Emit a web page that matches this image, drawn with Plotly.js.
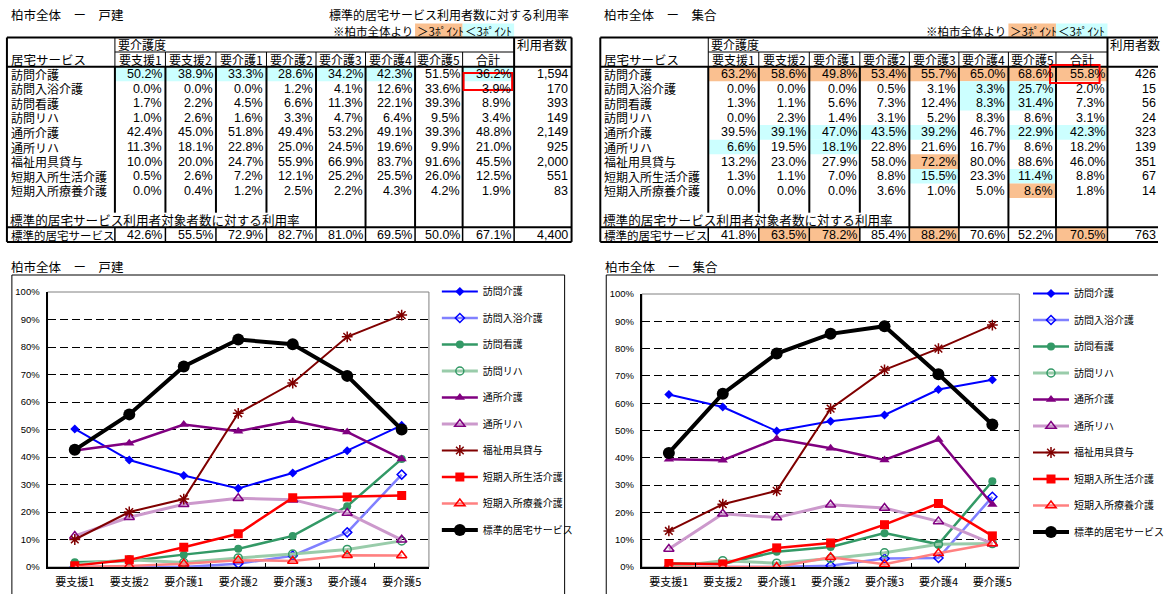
<!DOCTYPE html>
<html><head><meta charset="utf-8">
<script src="https://cdn.plot.ly/plotly-3.0.1.min.js"></script>
<style>html,body{margin:0;padding:0;background:#fff;}#chart{width:1169px;height:594px;}</style>
</head><body><div id="chart"></div>
<script>
// ---------- data ----------
const levels = ['要支援1','要支援2','要介護1','要介護2','要介護3','要介護4','要介護5'];
const totalLabel = '合計';
const services = ['訪問介護','訪問入浴介護','訪問看護','訪問リハ','通所介護','通所リハ','福祉用具貸与','短期入所生活介護','短期入所療養介護'];
const standardLabel = '標準的居宅サービス';

// 戸建 : 7 levels + 合計 (%)
const kodateHomonKaigo    = [50.2,38.9,33.3,28.6,34.2,42.3,51.5,36.2];
const kodateHomonNyuyoku  = [0.0,0.0,0.0,1.2,4.1,12.6,33.6,3.9];
const kodateHomonKango    = [1.7,2.2,4.5,6.6,11.3,22.1,39.3,8.9];
const kodateHomonReha     = [1.0,2.6,1.6,3.3,4.7,6.4,9.5,3.4];
const kodateTsushoKaigo   = [42.4,45.0,51.8,49.4,53.2,49.1,39.3,48.8];
const kodateTsushoReha    = [11.3,18.1,22.8,25.0,24.5,19.6,9.9,21.0];
const kodateFukushiYogu   = [10.0,20.0,24.7,55.9,66.9,83.7,91.6,45.5];
const kodateTankiSeikatsu = [0.5,2.6,7.2,12.1,25.2,25.5,26.0,12.5];
const kodateTankiRyoyo    = [0.0,0.4,1.2,2.5,2.2,4.3,4.2,1.9];
const kodateHyojun        = [42.6,55.5,72.9,82.7,81.0,69.5,50.0,67.1];
const kodateUsers = [1594,170,393,149,2149,925,2000,551,83,4400];
// c: <3ポイント , o: >3ポイント
const kodateFlags = [
  ['c','c','c','c','c','c','','c'],
  [],[],[],[],[],[],[],[],[]
];

// 集合
const shugoHomonKaigo    = [63.2,58.6,49.8,53.4,55.7,65.0,68.6,55.8];
const shugoHomonNyuyoku  = [0.0,0.0,0.0,0.5,3.1,3.3,25.7,2.0];
const shugoHomonKango    = [1.3,1.1,5.6,7.3,12.4,8.3,31.4,7.3];
const shugoHomonReha     = [0.0,2.3,1.4,3.1,5.2,8.3,8.6,3.1];
const shugoTsushoKaigo   = [39.5,39.1,47.0,43.5,39.2,46.7,22.9,42.3];
const shugoTsushoReha    = [6.6,19.5,18.1,22.8,21.6,16.7,8.6,18.2];
const shugoFukushiYogu   = [13.2,23.0,27.9,58.0,72.2,80.0,88.6,46.0];
const shugoTankiSeikatsu = [1.3,1.1,7.0,8.8,15.5,23.3,11.4,8.8];
const shugoTankiRyoyo    = [0.0,0.0,0.0,3.6,1.0,5.0,8.6,1.8];
const shugoHyojun        = [41.8,63.5,78.2,85.4,88.2,70.6,52.2,70.5];
const shugoUsers = [426,15,56,24,323,139,351,67,14,763];
const shugoFlags = [
  ['o','o','o','o','o','o','o','o'],
  ['','','','','','c','c',''],
  ['','','','','','c','c',''],
  [],
  ['','c','c','c','c','','c','c'],
  ['c','','c','','','','',''],
  ['','','','','o','','',''],
  ['','','','','c','','c',''],
  ['','','','','','','o',''],
  ['','o','o','','o','','','o']
];

const kodateRows = [kodateHomonKaigo,kodateHomonNyuyoku,kodateHomonKango,kodateHomonReha,kodateTsushoKaigo,kodateTsushoReha,kodateFukushiYogu,kodateTankiSeikatsu,kodateTankiRyoyo,kodateHyojun];
const shugoRows = [shugoHomonKaigo,shugoHomonNyuyoku,shugoHomonKango,shugoHomonReha,shugoTsushoKaigo,shugoTsushoReha,shugoFukushiYogu,shugoTankiSeikatsu,shugoTankiRyoyo,shugoHyojun];
const seriesNames = services.concat([standardLabel]);

// ---------- styles ----------
const CJK = 'Noto Sans CJK JP, sans-serif';
const NUM = 'Liberation Sans Narrow, Liberation Sans, Arial, sans-serif';
const CYAN = '#CCFFFF', ORANGE = '#FAC090';
const styles = [
 {c:'#0000FF', w:2,   s:'diamond',          z:7,  m:'#0000FF'},
 {c:'#8080FF', w:2.5, s:'diamond-open',     z:7,  m:'#0000FF'},
 {c:'#339966', w:2.5, s:'circle',           z:8,  m:'#339966'},
 {c:'#99CCAA', w:3,   s:'circle-open',      z:8,  m:'#339966'},
 {c:'#800080', w:2.5, s:'triangle-up',      z:9,  m:'#800080'},
 {c:'#CC99CC', w:3,   s:'triangle-up-open', z:9,  m:'#800080'},
 {c:'#800000', w:2,   s:'asterisk-open',    z:9,  m:'#800000'},
 {c:'#FF0000', w:2.5, s:'square',           z:9,  m:'#FF0000'},
 {c:'#FF8080', w:2.5, s:'triangle-up-open', z:9,  m:'#FF0000'},
 {c:'#000000', w:4,   s:'circle',           z:12, m:'#000000'}
];

const traces = [];
function addChart(rows, xa, ya, leg, prefix){
  rows.forEach((r,i)=>{
    const st = styles[i];
    const open = st.s.indexOf('open')>=0;
    traces.push({
      type:'scatter', mode:'lines+markers', name: seriesNames[i],
      x: levels, y: r.slice(0,7).map(v=>v/100),
      xaxis: xa, yaxis: ya, legend: leg, legendgroup: prefix+i,
      line:{color:st.c, width:st.w},
      marker:{symbol:st.s, size:st.z, color: st.m,
              line:{color:st.m, width: open ? 1.5 : 0}},
      hoverinfo:'skip'
    });
  });
}
addChart(kodateRows,'x','y','legend','L');
addChart(shugoRows,'x2','y2','legend2','R');

// invisible trace so the pixel-scale axes x3/y3 exist
traces.push({type:'scatter', x:[0], y:[0], xaxis:'x3', yaxis:'y3', mode:'markers',
  marker:{opacity:0}, showlegend:false, hoverinfo:'skip'});

const shapes = [], annotations = [];
function px(o){ return Object.assign({xref:'x3', yref:'y3'}, o); }
function line(x0,y0,x1,y1,w,color){
  shapes.push(px({type:'line', x0, y0, x1, y1, line:{color:color||'#000', width:w}, layer:'above'}));
}
function rect(x0,y0,x1,y1,fill){
  shapes.push(px({type:'rect', x0, y0, x1, y1, fillcolor:fill, line:{width:0}, layer:'below'}));
}
function txt(x,y,t,anchor,size,fam){
  annotations.push(px({x, y, text:t, showarrow:false, xanchor:anchor||'left', yanchor:'middle',
    font:{family:fam||CJK, size:size||12, color:'#000'}, borderpad:0}));
}

function addTable(ox, title, rows, users, flags, red, usersRight){
  const X = [7,116,167,218,269,319,369,419,467,519,577].map(v=>v+ox);
  const top=37.5, h1=52, h2=66.7, rh=14.6;
  const rt = i => h2 + rh*i;
  const labelTop = rt(10), finalTop = rt(11), bottom = rt(12);
  // heading
  txt(X[0]+3, 14, title, 'left', 12.5);
  txt(X[10]-2, 14, '標準的居宅サービス利用者数に対する利用率', 'right', 12);
  rect(X[7], 23.5, X[8], top, ORANGE);
  rect(X[8], 23.5, X[9], top, CYAN);
  txt(X[7]-1, 30.5, '※柏市全体より', 'right', 11.5);
  txt(X[7]+1, 30.5, '＞3ﾎﾟｲﾝﾄ', 'left', 11.5);
  txt(X[8]+1, 30.5, '＜3ﾎﾟｲﾝﾄ', 'left', 11.5);
  // highlights
  flags.forEach((fr,i)=>{
    fr.forEach((f,j)=>{
      if(!f) return;
      const y0 = i<9 ? rt(i) : finalTop, y1 = i<9 ? rt(i+1) : bottom;
      rect(X[j+1], y0, X[j+2], y1, f==='o'?ORANGE:CYAN);
    });
  });
  // header text
  txt(X[1]+2, (top+h1)/2 - 0.5, '要介護度', 'left', 12);
  txt(X[9]+2, (top+h1)/2 - 0.5, '利用者数', 'left', 12.5);
  txt(X[0]+3, (h1+h2)/2 + 0.5, '居宅サービス', 'left', 12.5);
  levels.forEach((l,j)=> txt((X[j+1]+X[j+2])/2, (h1+h2)/2 + 0.5, l, 'center', 12));
  txt((X[8]+X[9])/2, (h1+h2)/2 + 0.5, totalLabel, 'center', 12);
  // rows
  rows.forEach((r,i)=>{
    const yc = i<9 ? rt(i)+rh/2 : (finalTop+bottom)/2 + 0.5;
    txt(X[0]+3, yc, seriesNames[i], 'left', i<9?12:11.5);
    r.forEach((v,j)=> txt(X[j+2]-2, yc, v.toFixed(1)+'%', 'right', 12.5, NUM));
    txt(usersRight, yc, users[i].toLocaleString('en-US'), 'right', 12.5, NUM);
  });
  txt(X[0]+2, (labelTop+finalTop)/2 - 0.5, '標準的居宅サービス利用者対象者数に対する利用率', 'left', 12.6);
  // lines
  line(X[0],top,X[10],top,2); line(X[0],bottom,X[10],bottom,2);
  line(X[0],top,X[0],bottom,2); line(X[10],top,X[10],bottom,2);
  line(X[1],h1,X[9],h1,1);
  line(X[1],top,X[1],h2,1); line(X[9],top,X[9],h2,2);
  for(let j=2;j<=8;j++) line(X[j],h1,X[j],h2,1);
  line(X[0],h2,X[10],h2,2);
  for(let j=1;j<=9;j++) line(X[j],h2,X[j], j>=5?finalTop:labelTop, 2);
  line(X[0],finalTop,X[10],finalTop,2);
  for(let j=1;j<=9;j++) line(X[j],finalTop,X[j],bottom,1.5);
  shapes.push(px({type:'rect', x0:red[0], y0:red[1], x1:red[2], y1:red[3], line:{color:'#FF0000', width:2}, layer:'above'}));
}
addTable(0, '柏市全体　ー　戸建', kodateRows, kodateUsers, kodateFlags, [468,73,517,90], 574);
addTable(599, '柏市全体　ー　集合', shugoRows, shugoUsers, shugoFlags, [1060,65,1110,83], 1168);

// chart titles & boxes
txt(10, 266, '柏市全体　ー　戸建', 'left', 12.5);
txt(610, 266, '柏市全体　ー　集合', 'left', 12.5);
shapes.push(px({type:'rect', x0:12, y0:275, x1:570, y1:600, line:{color:'#000', width:1}, layer:'above'}));
shapes.push(px({type:'rect', x0:612, y0:275, x1:1200, y1:600, line:{color:'#000', width:1}, layer:'above'}));
// plot-area borders
['', '2'].forEach(k=>{
  shapes.push({type:'rect', xref:'x'+k+' domain', yref:'y'+k+' domain', x0:0, x1:1, y0:0, y1:1,
    line:{color:'#808080', width:1}, layer:'below'});
});

function xAxis(dom, anchor){
  return {domain:dom, anchor, type:'category', categoryorder:'array', categoryarray:levels,
    range:[-0.5,6.5], showline:true, linecolor:'#000', linewidth:2, ticks:'inside', tickson:'boundaries',
    ticklen:4, tickcolor:'#000', tickfont:{family:CJK, size:11, color:'#000'}, showgrid:false,
    zeroline:false, fixedrange:true, ticklabelstandoff:4};
}
function yAxis(dom, anchor){
  return {domain:dom, anchor, range:[0,1], dtick:0.1, tick0:0, tickformat:'.0%', showgrid:true,
    gridcolor:'#000', griddash:'8px,4px', gridwidth:1, showline:true, linecolor:'#000', linewidth:2,
    zeroline:false, ticks:'', tickfont:{family:'Liberation Sans, Arial, sans-serif', size:9.5, color:'#000'},
    fixedrange:true, ticklabelstandoff:4};
}
const W=1169, H=594;
const legendBase = {xanchor:'left', yanchor:'top', bgcolor:'rgba(0,0,0,0)', borderwidth:0,
  font:{family:CJK, size:10, color:'#000'}, itemwidth:36, tracegroupgap:7.5, traceorder:'grouped'};

const layout = {
  width:W, height:H, margin:{l:0,r:0,t:0,b:0}, paper_bgcolor:'#fff', plot_bgcolor:'rgba(0,0,0,0)',
  font:{family:CJK, color:'#000'}, showlegend:true,
  xaxis: xAxis([48/W, 433/W], 'y'),
  yaxis: yAxis([1-567/H, 1-292/H], 'x'),
  xaxis2: xAxis([648/W, 1029/W], 'y2'),
  yaxis2: yAxis([1-567/H, 1-294/H], 'x2'),
  xaxis3: {domain:[0,1], range:[0,W], visible:false, fixedrange:true, anchor:'y3'},
  yaxis3: {domain:[0,1], range:[H,0], visible:false, fixedrange:true, anchor:'x3'},
  legend: Object.assign({x:441/W, y:1-277/H}, legendBase),
  legend2: Object.assign({x:1038/W, y:1-279/H}, legendBase),
  shapes, annotations
};
Plotly.newPlot('chart', traces, layout, {staticPlot:true, displayModeBar:false});
</script></body></html>
